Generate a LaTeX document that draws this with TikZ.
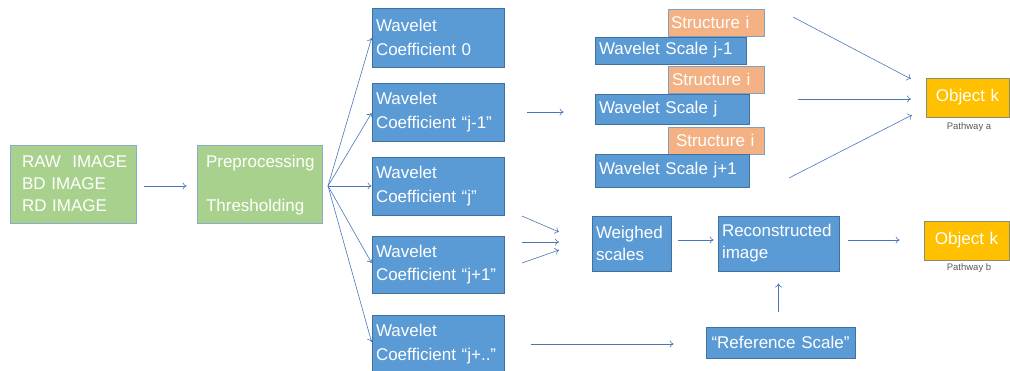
\documentclass[tikz,border=0pt]{standalone}
\usepackage{fontspec}
\setmainfont{Liberation Sans}
\usetikzlibrary{arrows.meta}
\definecolor{bfill}{HTML}{5B9BD5}
\definecolor{bline}{HTML}{41719C}
\definecolor{gfill}{HTML}{A9D18E}
\definecolor{gline}{HTML}{8FAAC8}
\definecolor{ofill}{HTML}{F4B183}
\definecolor{oline}{HTML}{7F9FC3}
\definecolor{yfill}{HTML}{FFC000}
\definecolor{yline}{HTML}{8C8C70}
\definecolor{arr}{HTML}{4A76B8}
\definecolor{cap}{HTML}{595959}
\begin{document}
\begin{tikzpicture}[x=1pt,y=-1pt,
  boxbase/.style={draw, line width=0.8pt, text=white, align=left, inner ysep=0pt, inner xsep=4pt,
    font=\fontsize{17}{22}\selectfont},
  bluebox/.style={boxbase, fill=bfill, draw=bline},
  greenbox/.style={boxbase, fill=gfill, draw=gline},
  orangebox/.style={boxbase, fill=ofill, draw=oline},
  goldbox/.style={boxbase, fill=yfill, draw=yline, align=center},
  coefbox/.style={bluebox, text width=124pt, font=\fontsize{17}{23.5}\selectfont},
  caplabel/.style={text=cap, font=\fontsize{9.5}{11}\selectfont, inner sep=0pt},
  conn/.style={draw=arr, line width=0.6pt, -{To[length=4pt,width=7pt]}}
]
\useasboundingbox (0,0) rectangle (1010,371);

% left boxes
\node[greenbox, inner xsep=12pt, text width=102pt, minimum height=78pt] (raw) at (73,184)
  {\mbox{RAW~ IMAGE}\\BD IMAGE\\RD IMAGE};
\node[greenbox, inner xsep=9pt, text width=107pt, minimum height=78pt] (prep) at (259.5,184)
  {\rule{0pt}{15pt}Preprocessing\\[22pt]Thresholding};

% wavelet coefficients
\node[coefbox, minimum height=59pt] (c0) at (438,37.5) {Wavelet\\Coefficient 0};
\node[coefbox, minimum height=58pt] (c1) at (438,112) {Wavelet\\Coefficient “j-1”};
\node[coefbox, minimum height=58pt] (c2) at (438,186) {Wavelet\\Coefficient “j”};
\node[coefbox, minimum height=57pt] (c3) at (438,264.5) {Wavelet\\Coefficient “j+1”};
\node[coefbox, minimum height=58pt] (c4) at (438,344) {Wavelet\\Coefficient “j+..”};

% structures and scales
\node[orangebox, inner xsep=3pt, text width=90pt, minimum height=27pt] (st1) at (716,22.5) {Structure i};
\node[orangebox, inner xsep=4pt, text width=88pt, minimum height=27pt] (st2) at (716,79.5) {Structure i};
\node[orangebox, inner xsep=8pt, text width=80pt, minimum height=27pt] (st3) at (716,140.5) {Structure i};
\node[bluebox, text width=143pt, minimum height=27pt] (s1) at (670.5,50.5) {Wavelet Scale j-1};
\node[bluebox, text width=146pt, minimum height=30pt] (s2) at (672,109) {Wavelet Scale j};
\node[bluebox, text width=146pt, minimum height=33pt] (s3) at (672,170.5) {Wavelet Scale j+1};

% objects
\node[goldbox, text width=75pt, minimum height=39pt] (oa) at (967.5,97.5) {Object k};
\node[caplabel] (pa) at (969,127) {Pathway a};
\node[goldbox, text width=77pt, minimum height=39pt] (ob) at (966.5,240.5) {Object k};
\node[caplabel] (pb) at (969,268) {Pathway b};

% lower chain
\node[bluebox, text width=71pt, minimum height=55pt] (ws) at (631.5,243.5) {Weighed\\scales};
\node[bluebox, text width=113pt, minimum height=55pt] (rc) at (778.5,243.5) {Reconstructed\\image};
\node[bluebox, align=center, text width=141pt, minimum height=31pt] (ref) at (780.5,342.5) {“Reference Scale”};

% connectors
\draw[conn, shorten <=8pt, shorten >=10pt] ([yshift=-2pt]raw.east) -- ([yshift=-2pt]prep.west);
\coordinate (fan) at (328,186);
\draw[conn] (fan) -- ([yshift=-0.5pt]c0.west);
\draw[conn] (fan) -- ([yshift=-1pt]c1.west);
\draw[conn] (fan) -- (c2.west);
\draw[conn] (fan) -- ([yshift=1.5pt]c3.west);
\draw[conn] (fan) -- ([yshift=2pt]c4.west);

\draw[conn, shorten <=23pt, shorten >=31pt] (c1.east) -- (c1.east -| s2.west);

\coordinate (w1s) at (522,216); \coordinate (w1e) at (559,232);
\coordinate (w2s) at (522,242); \coordinate (w2e) at (559,242);
\coordinate (w3s) at (522,263); \coordinate (w3e) at (559,250);
\draw[conn] (w1s) -- (w1e);
\draw[conn] (w2s) -- (w2e);
\draw[conn] (w3s) -- (w3e);

\coordinate (a1s) at (793,17); \coordinate (a1e) at (911,79);
\coordinate (a2s) at (798,99); \coordinate (a2e) at (911,99);
\coordinate (a3s) at (789,178); \coordinate (a3e) at (912,115);
\draw[conn] (a1s) -- (a1e);
\draw[conn] (a2s) -- (a2e);
\draw[conn] (a3s) -- (a3e);

\draw[conn, shorten <=7pt, shorten >=4pt] ([yshift=3.5pt]ws.east) -- ([yshift=3.5pt]rc.west);
\draw[conn, shorten <=9pt, shorten >=24pt] ([yshift=3.5pt]rc.east) -- ([yshift=3.5pt]rc.east -| ob.west);
\draw[conn, shorten <=15pt, shorten >=12pt] (rc.south |- ref.north) -- (rc.south);
\draw[conn, shorten <=27pt, shorten >=32pt] (c4.east) -- (c4.east -| ref.west);
\end{tikzpicture}
\end{document}
